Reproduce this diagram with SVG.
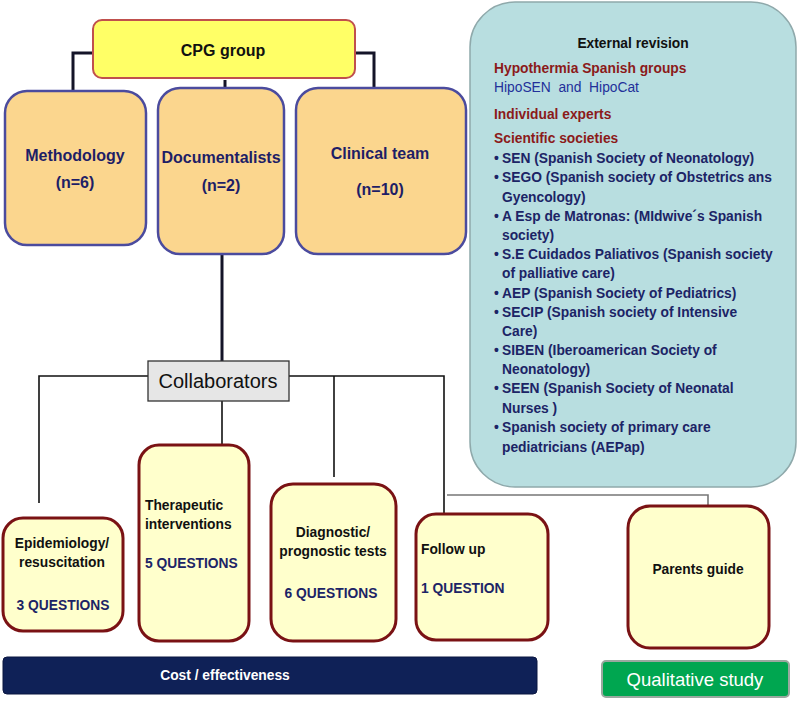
<svg xmlns="http://www.w3.org/2000/svg" width="800" height="701" viewBox="0 0 800 701">
<style>
text{font-family:"Liberation Sans",Arial,sans-serif}
.top{fill:#FBD68E;stroke:#4B4B9E;stroke-width:2.5}
.tt{font-size:16px;font-weight:bold;fill:#1E1E66;text-anchor:middle}
.bot{fill:#FFFFCC;stroke:#7A1214;stroke-width:3}
.bt{font-size:13.8px;font-weight:bold;fill:#111}
.q{font-size:13.8px;font-weight:bold;fill:#1C2466}
.hd{font-size:13.8px;font-weight:bold;fill:#8B1A1A}
.li{font-size:13.8px;font-weight:bold;fill:#1C2466}
.thick{stroke:#141428;stroke-width:3;fill:none}
.thin{stroke:#111;stroke-width:1.6;fill:none}
.gray{stroke:#777;stroke-width:1.6;fill:none}
.mid{text-anchor:middle}
</style>

<g id="external">
<rect x="470" y="2" width="326" height="485" rx="45" fill="#B8DEE0" stroke="#8FA9AB" stroke-width="1.5"/>
<text x="633" y="48" class="mid" style="font-size:13.8px;font-weight:bold;fill:#111">External revision</text>
<text x="494" y="73" class="hd">Hypothermia Spanish groups</text>
<text x="494" y="92" style="font-size:13.8px;fill:#22309A;white-space:pre" xml:space="preserve">HipoSEN  and  HipoCat</text>
<text x="494" y="119" class="hd">Individual experts</text>
<text x="494" y="143" class="hd">Scientific societies</text>
<g class="li">
<text x="494" y="163" class="li">•</text><text x="502" y="163" class="li">SEN (Spanish Society of Neonatology)</text>
<text x="494" y="182" class="li">•</text><text x="502" y="182" class="li">SEGO (Spanish society of Obstetrics ans</text>
<text x="502" y="202" class="li">Gyencology)</text>
<text x="494" y="221" class="li">•</text><text x="502" y="221" class="li">A Esp de Matronas: (MIdwive´s Spanish</text>
<text x="502" y="240" class="li">society)</text>
<text x="494" y="259" class="li">•</text><text x="502" y="259" class="li">S.E Cuidados Paliativos (Spanish society</text>
<text x="502" y="278" class="li">of palliative care)</text>
<text x="494" y="298" class="li">•</text><text x="502" y="298" class="li">AEP (Spanish Society of Pediatrics)</text>
<text x="494" y="317" class="li">•</text><text x="502" y="317" class="li">SECIP (Spanish society of Intensive</text>
<text x="502" y="336" class="li">Care)</text>
<text x="494" y="355" class="li">•</text><text x="502" y="355" class="li">SIBEN (Iberoamerican Society of</text>
<text x="502" y="374" class="li">Neonatology)</text>
<text x="494" y="393" class="li">•</text><text x="502" y="393" class="li">SEEN (Spanish Society of Neonatal</text>
<text x="502" y="413" class="li">Nurses )</text>
<text x="494" y="432" class="li">•</text><text x="502" y="432" class="li">Spanish society of primary care</text>
<text x="502" y="452" class="li">pediatricians (AEPap)</text>
</g>
</g>

<g id="connectors">
<path class="thick" d="M93,53 H73 V91"/>
<path class="thick" d="M355,53 H374 V89"/>
<path class="thick" d="M225,80 V89"/>
<path class="thick" d="M222,254 V361"/>
<path class="thin" d="M148,376 H39 V503"/>
<path class="thin" d="M289,376 H444 V515"/>
<path class="thin" d="M334,376 V477"/>
<path class="thin" d="M222,401 V444"/>
<path class="gray" d="M447,495 H708 V506"/>
</g>

<g id="cpg">
<rect x="93" y="20" width="262" height="58" rx="9" fill="#FFFF66" stroke="#C0504D" stroke-width="2"/>
<text x="223" y="56" class="mid" style="font-size:16px;font-weight:bold;fill:#111">CPG group</text>
</g>

<g id="methodology">
<rect x="5" y="91" width="141" height="154" rx="22" class="top"/>
<text x="75" y="161" class="tt">Methodology</text>
<text x="75" y="188" class="tt">(n=6)</text>
</g>
<g id="documentalists">
<rect x="158" y="88" width="126" height="166" rx="22" class="top"/>
<text x="221" y="163" class="tt">Documentalists</text>
<text x="221" y="191" class="tt">(n=2)</text>
</g>
<g id="clinical">
<rect x="296" y="88" width="170" height="166" rx="22" class="top"/>
<text x="380" y="159" class="tt">Clinical team</text>
<text x="380" y="195" class="tt">(n=10)</text>
</g>

<g id="collaborators">
<rect x="148" y="361" width="141" height="40" fill="#E6E6E6" stroke="#333" stroke-width="1.3"/>
<text x="218" y="388" class="mid" style="font-size:20px;fill:#111">Collaborators</text>
</g>

<g id="epidemiology">
<rect x="3" y="518" width="120" height="113" rx="20" class="bot"/>
<text x="62" y="548" class="bt mid">Epidemiology/</text>
<text x="62" y="567" class="bt mid">resuscitation</text>
<text x="63" y="610" class="q mid">3 QUESTIONS</text>
</g>
<g id="therapeutic">
<rect x="139" y="445" width="110" height="196" rx="20" class="bot"/>
<text x="145" y="510" class="bt">Therapeutic</text>
<text x="145" y="529" class="bt">interventions</text>
<text x="145" y="568" class="q">5 QUESTIONS</text>
</g>
<g id="diagnostic">
<rect x="271" y="484" width="125" height="157" rx="22" class="bot"/>
<text x="333" y="537" class="bt mid">Diagnostic/</text>
<text x="333" y="556" class="bt mid">prognostic tests</text>
<text x="331" y="598" class="q mid">6 QUESTIONS</text>
</g>
<g id="followup">
<rect x="416" y="514" width="132" height="126" rx="20" class="bot"/>
<text x="421" y="554" class="bt">Follow up</text>
<text x="421" y="593" class="q">1 QUESTION</text>
</g>
<g id="parents">
<rect x="628" y="506" width="141" height="142" rx="22" class="bot"/>
<text x="698" y="574" class="bt mid">Parents guide</text>
</g>

<g id="cost">
<rect x="3" y="657" width="534" height="37" rx="4" fill="#0F2157" stroke="#0A1640" stroke-width="1"/>
<text x="225" y="680" class="mid" style="font-size:13.8px;font-weight:bold;fill:#fff">Cost / effectiveness</text>
</g>
<g id="qualitative">
<rect x="602" y="661" width="187" height="36" rx="4" fill="#00A650" stroke="#9AA89F" stroke-width="2"/>
<text x="695" y="686" class="mid" style="font-size:18.5px;fill:#fff">Qualitative study</text>
</g>
</svg>
